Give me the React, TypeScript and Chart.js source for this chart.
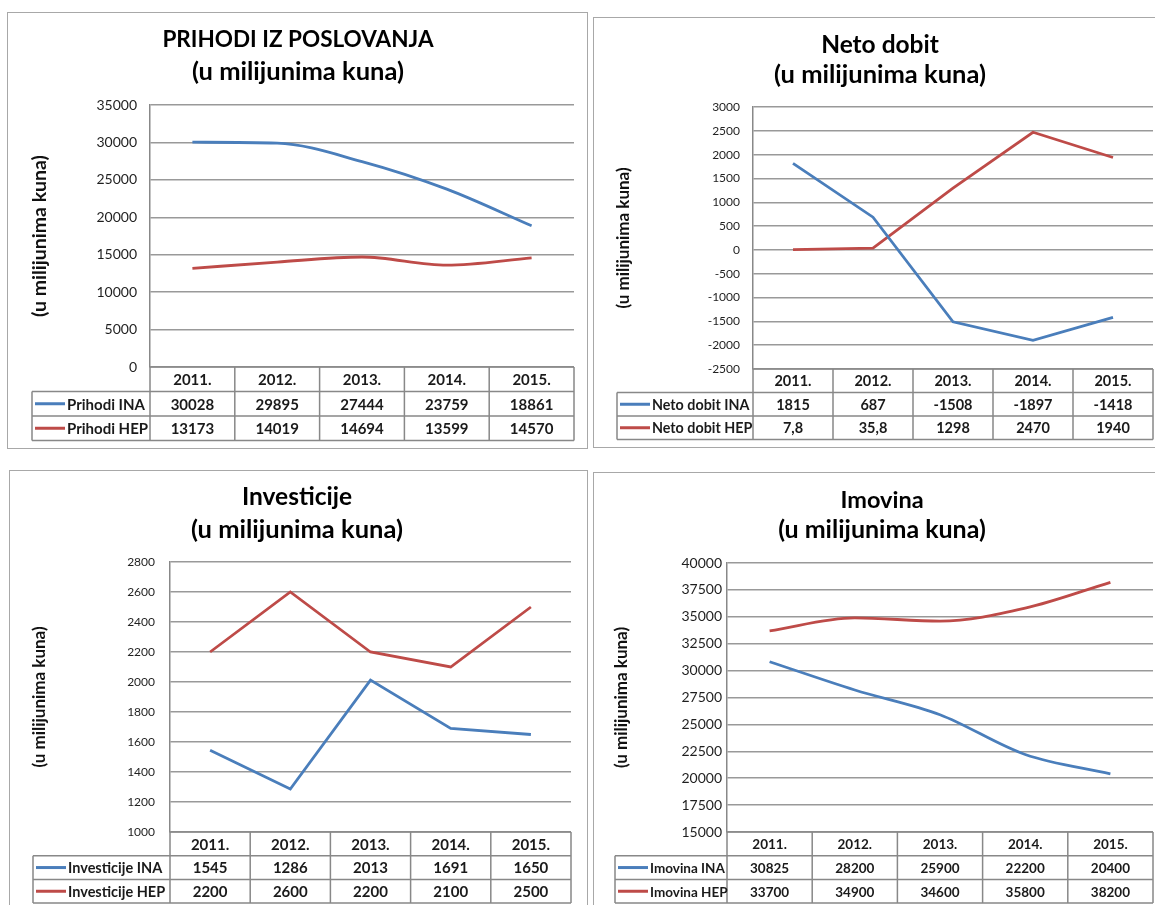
import React, { useEffect, useRef } from "react";
import { Chart, registerables } from "chart.js";

Chart.register(...registerables);

// ---------- DATA ----------
const years = ["2011.", "2012.", "2013.", "2014.", "2015."];

const prihodiINA = [30028, 29895, 27444, 23759, 18861];
const prihodiHEP = [13173, 14019, 14694, 13599, 14570];

const netoINA = [1815, 687, -1508, -1897, -1418];
const netoHEP = [7.8, 35.8, 1298, 2470, 1940];

const investINA = [1545, 1286, 2013, 1691, 1650];
const investHEP = [2200, 2600, 2200, 2100, 2500];

const imovinaINA = [30825, 28200, 25900, 22200, 20400];
const imovinaHEP = [33700, 34900, 34600, 35800, 38200];

const axis1 = [0, 35000, 5000];
const axis2 = [-2500, 3000, 500];
const axis3 = [1000, 2800, 200];
const axis4 = [15000, 40000, 2500];

const BLUE = "#4A7EBB";
const RED = "#BE4B48";
const FONT = "Lato, 'Open Sans', sans-serif";
const SUB = "(u milijunima kuna)";

const fmt = (v: number) => String(v).replace(".", ",");

type Panel = {
  box: { left: number; top: number; w: number; h: number };
  plot: { left: number; right: number; top: number; bottom: number };
  rowH: number;
  labelLeft: number;
  titles: { text: string; y: number; size: number }[];
  titleX: number;
  axisTitleX: number;
  axisTitleSize: number;
  tickSize: number;
  tickPad: number;
  tableSize: number;
  labelSize: number;
  smooth: boolean;
  axis: number[];
  series: { name: string; data: number[]; color: string }[];
};

const panels: Panel[] = [
  {
    box: { left: 7, top: 12, w: 581, h: 437 },
    plot: { left: 143, right: 567, top: 93, bottom: 355 },
    rowH: 24.5,
    labelLeft: 25,
    titles: [
      { text: "PRIHODI IZ POSLOVANJA", y: 28, size: 22.5 },
      { text: SUB, y: 60, size: 25.5 },
    ],
    titleX: 291,
    axisTitleX: 33,
    axisTitleSize: 19.5,
    tickSize: 14,
    tickPad: 13,
    tableSize: 15,
    labelSize: 15,
    smooth: true,
    axis: axis1,
    series: [
      { name: "Prihodi INA", data: prihodiINA, color: BLUE },
      { name: "Prihodi HEP", data: prihodiHEP, color: RED },
    ],
  },
  {
    box: { left: 593, top: 17, w: 575, h: 431 },
    plot: { left: 160, right: 560, top: 90, bottom: 352 },
    rowH: 23.5,
    labelLeft: 24,
    titles: [
      { text: "Neto dobit", y: 28, size: 24.5 },
      { text: SUB, y: 58, size: 25.5 },
    ],
    titleX: 287,
    axisTitleX: 31,
    axisTitleSize: 17,
    tickSize: 12,
    tickPad: 13,
    tableSize: 14.5,
    labelSize: 14.3,
    smooth: false,
    axis: axis2,
    series: [
      { name: "Neto dobit INA", data: netoINA, color: BLUE },
      { name: "Neto dobit HEP", data: netoHEP, color: RED },
    ],
  },
  {
    box: { left: 9, top: 470, w: 579, h: 445 },
    plot: { left: 161, right: 562, top: 92, bottom: 362 },
    rowH: 23.7,
    labelLeft: 24,
    titles: [
      { text: "Investicije", y: 27, size: 24.5 },
      { text: SUB, y: 60, size: 25.5 },
    ],
    titleX: 288,
    axisTitleX: 31,
    axisTitleSize: 17,
    tickSize: 12,
    tickPad: 15,
    tableSize: 15,
    labelSize: 14.5,
    smooth: false,
    axis: axis3,
    series: [
      { name: "Investicije INA", data: investINA, color: BLUE },
      { name: "Investicije HEP", data: investHEP, color: RED },
    ],
  },
  {
    box: { left: 593, top: 472, w: 575, h: 445 },
    plot: { left: 134, right: 560, top: 91, bottom: 360 },
    rowH: 23.7,
    labelLeft: 22,
    titles: [
      { text: "Imovina", y: 28, size: 23.5 },
      { text: SUB, y: 58, size: 25 },
    ],
    titleX: 289,
    axisTitleX: 29,
    axisTitleSize: 17,
    tickSize: 14,
    tickPad: 5,
    tableSize: 13.5,
    labelSize: 13.5,
    smooth: true,
    axis: axis4,
    series: [
      { name: "Imovina INA", data: imovinaINA, color: BLUE },
      { name: "Imovina HEP", data: imovinaHEP, color: RED },
    ],
  },
];

const decorPlugin = {
  id: "panelDecor",
  afterDraw(chart: any, _args: any, opts: any) {
    const p: Panel = opts.panel;
    if (!p) return;
    const { ctx, chartArea } = chart;
    const xs = chart.scales.x;
    const n = chart.data.labels.length;
    const bounds: number[] = [chartArea.left];
    for (let i = 0; i < n - 1; i++) {
      bounds.push((xs.getPixelForValue(i) + xs.getPixelForValue(i + 1)) / 2);
    }
    bounds.push(chartArea.right);

    const top = chartArea.bottom;
    const r1 = top + p.rowH;
    const r2 = top + 2 * p.rowH;
    const r3 = top + 3 * p.rowH;

    ctx.save();
    // table lines
    ctx.strokeStyle = "#888888";
    ctx.lineWidth = 1.5;
    ctx.beginPath();
    ctx.moveTo(chartArea.left, top);
    ctx.lineTo(chartArea.right, top);
    [r1, r2, r3].forEach((y) => {
      ctx.moveTo(p.labelLeft, y);
      ctx.lineTo(chartArea.right, y);
    });
    bounds.forEach((bx) => {
      ctx.moveTo(bx, top);
      ctx.lineTo(bx, r3);
    });
    ctx.moveTo(p.labelLeft, r1);
    ctx.lineTo(p.labelLeft, r3);
    ctx.stroke();

    // header + values
    ctx.fillStyle = "#1a1a1a";
    ctx.textAlign = "center";
    ctx.textBaseline = "middle";
    ctx.font = `bold ${p.tableSize}px ${FONT}`;
    for (let i = 0; i < n; i++) {
      const cx = xs.getPixelForValue(i);
      ctx.fillText(chart.data.labels[i], cx, top + p.rowH / 2 + 1);
      chart.data.datasets.forEach((ds: any, k: number) => {
        ctx.fillText(fmt(ds.data[i]), cx, r1 + k * p.rowH + p.rowH / 2 + 1);
      });
    }
    // legend keys + names
    ctx.textAlign = "left";
    ctx.font = `bold ${p.labelSize}px ${FONT}`;
    chart.data.datasets.forEach((ds: any, k: number) => {
      const cy = r1 + k * p.rowH + p.rowH / 2;
      ctx.strokeStyle = ds.borderColor;
      ctx.lineWidth = 3;
      ctx.beginPath();
      ctx.moveTo(p.labelLeft + 3, cy);
      ctx.lineTo(p.labelLeft + 33, cy);
      ctx.stroke();
      ctx.fillStyle = "#1a1a1a";
      ctx.fillText(ds.label, p.labelLeft + 35, cy + 1);
    });

    // titles
    ctx.fillStyle = "#000";
    ctx.textAlign = "center";
    p.titles.forEach((t) => {
      ctx.font = `bold ${t.size}px ${FONT}`;
      ctx.fillText(t.text, p.titleX, t.y);
    });

    // y axis title
    ctx.save();
    ctx.translate(p.axisTitleX, (chartArea.top + chartArea.bottom) / 2);
    ctx.rotate(-Math.PI / 2);
    ctx.font = `bold ${p.axisTitleSize}px ${FONT}`;
    ctx.fillStyle = "#111";
    ctx.fillText(SUB, 0, 0);
    ctx.restore();

    ctx.restore();
  },
};

function PanelChart({ p }: { p: Panel }) {
  const ref = useRef<HTMLCanvasElement>(null);
  useEffect(() => {
    if (!ref.current) return;
    const yW = 80;
    const [min, max, step] = p.axis;
    const chart = new Chart(ref.current, {
      type: "line",
      data: {
        labels: years,
        datasets: p.series.map((s) => ({
          label: s.name,
          data: s.data,
          borderColor: s.color,
          backgroundColor: s.color,
          borderWidth: 2.8,
          pointRadius: 0,
          tension: p.smooth ? 0.4 : 0,
          cubicInterpolationMode: p.smooth ? "monotone" : "default",
          fill: false,
        })),
      },
      options: {
        responsive: false,
        animation: false,
        events: [],
        layout: {
          padding: {
            left: p.plot.left - yW,
            right: p.box.w - p.plot.right,
            top: p.plot.top,
            bottom: p.box.h - p.plot.bottom,
          },
        },
        plugins: {
          legend: { display: false },
          title: { display: false },
          tooltip: { enabled: false },
          panelDecor: { panel: p },
        } as any,
        scales: {
          x: {
            type: "category",
            offset: true,
            display: false,
          },
          y: {
            min,
            max,
            afterFit: (scale: any) => {
              scale.width = yW;
            },
            ticks: {
              stepSize: step,
              padding: p.tickPad,
              color: "#1f1f1f",
              font: { family: FONT, size: p.tickSize },
              callback: (v: any) => String(v),
            },
            grid: {
              color: "#999999",
              lineWidth: 1.5,
              drawTicks: false,
            },
            border: { display: true, color: "#888888", width: 1.5 },
          },
        },
      },
      plugins: [decorPlugin],
    });
    return () => chart.destroy();
  }, [p]);

  return (
    <>
      <canvas
        ref={ref}
        width={p.box.w}
        height={p.box.h}
        style={{
          position: "absolute",
          left: p.box.left,
          top: p.box.top,
          width: p.box.w,
          height: p.box.h,
        }}
      />
      <div
        style={{
          position: "absolute",
          left: p.box.left,
          top: p.box.top,
          width: p.box.w,
          height: p.box.h,
          border: "1px solid #a8a8a8",
          boxSizing: "border-box",
          pointerEvents: "none",
        }}
      />
    </>
  );
}

export default function App() {
  return (
    <div
      style={{
        position: "absolute",
        left: 0,
        top: 0,
        width: 1155,
        height: 905,
        overflow: "hidden",
        background: "#fff",
      }}
    >
      {panels.map((p, i) => (
        <PanelChart key={i} p={p} />
      ))}
    </div>
  );
}
